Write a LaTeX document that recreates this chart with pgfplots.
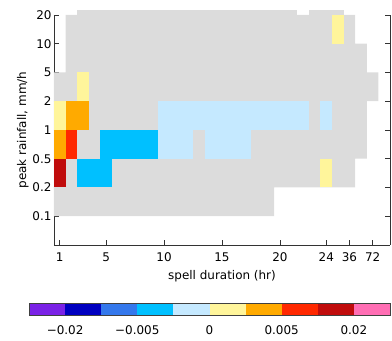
\documentclass[border=0pt]{standalone}
\usepackage{fontspec}
\setmainfont{DejaVu Sans}
\usepackage{pgfplots}
\pgfplotsset{compat=1.18}
\definecolor{cgray}{RGB}{220,220,220}
\definecolor{clyel}{RGB}{255,245,155}
\definecolor{corange}{RGB}{255,170,0}
\definecolor{cred}{RGB}{255,40,0}
\definecolor{cdred}{RGB}{192,12,12}
\definecolor{cblue}{RGB}{0,192,255}
\definecolor{clblue}{RGB}{197,233,255}
\definecolor{cpurple}{RGB}{122,34,230}
\definecolor{cdblue}{RGB}{0,0,192}
\definecolor{cmblue}{RGB}{52,120,236}
\definecolor{cpink}{RGB}{255,110,180}
\begin{document}
\begin{tikzpicture}
\useasboundingbox (0,0) rectangle (392bp,341bp);
\begin{axis}[
 at={(54bp,96bp)}, anchor=south west,
 scale only axis, width=336bp, height=230bp,
 xmin=0.5, xmax=29.5, ymin=0, ymax=8,
 clip=false,
 axis x line*=bottom, axis y line*=box,
 xtick={1,5,10,15,20,24,26,28}, xticklabels={1,5,10,15,20,24,36,72},
 ytick={1,2,3,4,5,6,7,8}, yticklabels={0.1,0.2,0.5,1,2,5,10,20},
 yticklabel pos=left,
 tick align=inside, major tick length=5bp,
 tick label style={font=\fontsize{12}{14}\selectfont},
 label style={font=\fontsize{12}{14}\selectfont},
 xticklabel style={yshift=-4bp},
 yticklabel style={xshift=1bp},
 xlabel={spell duration (hr)}, ylabel={peak rainfall, mm/h},
 xlabel shift=2bp, ylabel shift=-3bp,
 axis line style={line width=0.8bp, black!80},
 every tick/.style={black!80, line width=0.8bp},
]
% gray background region
\addplot[fill=cgray, draw=none] coordinates {(0.5,1) (19.5,1) (19.5,2) (26.5,2) (26.5,3) (27.5,3) (27.5,5) (28.5,5) (28.5,6) (27.5,6) (27.5,7) (26.5,7) (26.5,8) (1.5,8) (1.5,6) (0.5,6)};
\addplot[fill=cgray, draw=none] coordinates {(2.5,8) (21.5,8) (21.5,8.18) (2.5,8.18)};
\addplot[fill=cgray, draw=none] coordinates {(22.5,8) (25.5,8) (25.5,8.18) (22.5,8.18)};
% row 0.2-0.5
\addplot[fill=cdred, draw=none] coordinates {(0.5,2) (1.5,2) (1.5,3) (0.5,3)};
\addplot[fill=cblue, draw=none] coordinates {(2.5,2) (5.5,2) (5.5,3) (2.5,3)};
\addplot[fill=clyel, draw=none] coordinates {(23.5,2) (24.5,2) (24.5,3) (23.5,3)};
% row 0.5-1
\addplot[fill=corange, draw=none] coordinates {(0.5,3) (1.5,3) (1.5,4) (0.5,4)};
\addplot[fill=cred, draw=none] coordinates {(1.5,3) (2.5,3) (2.5,4) (1.5,4)};
\addplot[fill=cblue, draw=none] coordinates {(4.5,3) (9.5,3) (9.5,4) (4.5,4)};
\addplot[fill=clblue, draw=none] coordinates {(9.5,3) (12.5,3) (12.5,4) (9.5,4)};
\addplot[fill=clblue, draw=none] coordinates {(13.5,3) (17.5,3) (17.5,4) (13.5,4)};
% row 1-2
\addplot[fill=clyel, draw=none] coordinates {(0.5,4) (1.5,4) (1.5,5) (0.5,5)};
\addplot[fill=corange, draw=none] coordinates {(1.5,4) (3.5,4) (3.5,5) (1.5,5)};
\addplot[fill=clblue, draw=none] coordinates {(9.5,4) (22.5,4) (22.5,5) (9.5,5)};
\addplot[fill=clblue, draw=none] coordinates {(23.5,4) (24.5,4) (24.5,5) (23.5,5)};
% row 2-5
\addplot[fill=clyel, draw=none] coordinates {(2.5,5) (3.5,5) (3.5,6) (2.5,6)};
% row 10-20
\addplot[fill=clyel, draw=none] coordinates {(24.5,7) (25.5,7) (25.5,8) (24.5,8)};
\end{axis}
\begin{axis}[
 at={(29bp,26bp)}, anchor=south west,
 scale only axis, width=361bp, height=12bp,
 xmin=0, xmax=10, ymin=0, ymax=1,
 axis on top,
 ytick=\empty,
 xtick={1,3,5,7,9}, xticklabels={−0.02,−0.005,0,0.005,0.02},
 major tick length=0pt,
 tick label style={font=\fontsize{12}{14}\selectfont},
 xticklabel style={yshift=-7bp},
 axis line style={line width=0.8bp, black!75},
]
\addplot[fill=cpurple, draw=none] coordinates {(0,0) (1,0) (1,1) (0,1)};
\addplot[fill=cdblue, draw=none] coordinates {(1,0) (2,0) (2,1) (1,1)};
\addplot[fill=cmblue, draw=none] coordinates {(2,0) (3,0) (3,1) (2,1)};
\addplot[fill=cblue, draw=none] coordinates {(3,0) (4,0) (4,1) (3,1)};
\addplot[fill=clblue, draw=none] coordinates {(4,0) (5,0) (5,1) (4,1)};
\addplot[fill=clyel, draw=none] coordinates {(5,0) (6,0) (6,1) (5,1)};
\addplot[fill=corange, draw=none] coordinates {(6,0) (7,0) (7,1) (6,1)};
\addplot[fill=cred, draw=none] coordinates {(7,0) (8,0) (8,1) (7,1)};
\addplot[fill=cdred, draw=none] coordinates {(8,0) (9,0) (9,1) (8,1)};
\addplot[fill=cpink, draw=none] coordinates {(9,0) (10,0) (10,1) (9,1)};
\end{axis}
\end{tikzpicture}
\end{document}
